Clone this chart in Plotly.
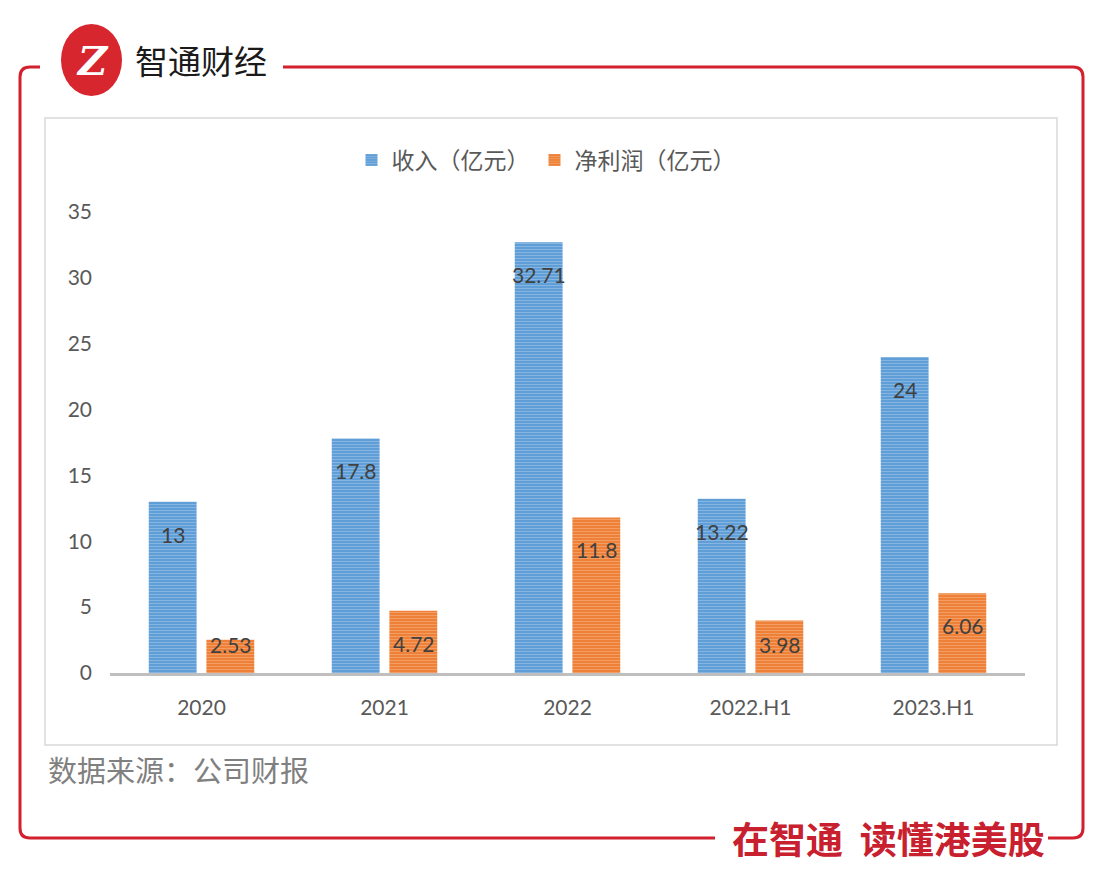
import plotly.graph_objects as go

W, H = 1106, 879

categories = ["2020", "2021", "2022", "2022.H1", "2023.H1"]
revenue = [13, 17.8, 32.71, 13.22, 24]
profit = [2.53, 4.72, 11.8, 3.98, 6.06]
series_names = ["收入（亿元）", "净利润（亿元）"]
y_ticks = [0, 5, 10, 15, 20, 25, 30, 35]

def px(x):
    return x / W

def py(y):
    return 1 - y / H

BLUE = "#5B9BD5"
BLUE_L = "#B4D0F0"
ORANGE = "#ED7D31"
ORANGE_L = "#F8BE98"
RED = "#D2202E"
CJK = "Noto Sans CJK SC"
NUM = "Lato, Noto Sans CJK SC"

fig = go.Figure()
fig.add_trace(go.Bar(
    x=categories, y=revenue, name=series_names[0],
    marker=dict(color=BLUE, line=dict(width=0),
                pattern=dict(shape="-", fgcolor=BLUE_L, bgcolor=BLUE, size=3, solidity=0.4)),
))
fig.add_trace(go.Bar(
    x=categories, y=profit, name=series_names[1],
    marker=dict(color=ORANGE, line=dict(width=0),
                pattern=dict(shape="-", fgcolor=ORANGE_L, bgcolor=ORANGE, size=3, solidity=0.4)),
))

annotations = []
# data labels (inside, near the top of each bar); x given as category index
for series, shift in ((revenue, -29), (profit, 29)):
    for i, v in enumerate(series):
        annotations.append(dict(
            x=i, y=max(v - 2.45, 2.2), xref="x", yref="y", xshift=shift,
            text=f"{v:g}", showarrow=False,
            font=dict(family=NUM, size=21, color="#404040"),
            xanchor="center", yanchor="middle",
        ))

# brand text
annotations.append(dict(x=px(133), y=py(60), xref="paper", yref="paper", text="智通财经",
                        showarrow=False, xanchor="left", yanchor="middle",
                        font=dict(family=CJK, size=33, color="#1a1a1a")))
annotations.append(dict(x=px(92), y=py(60), xref="paper", yref="paper", text="<b><i>Z</i></b>",
                        showarrow=False, xanchor="center", yanchor="middle",
                        font=dict(family="DejaVu Serif", size=40, color="white")))
# source
annotations.append(dict(x=px(46), y=py(769), xref="paper", yref="paper", text="数据来源：公司财报",
                        showarrow=False, xanchor="left", yanchor="middle",
                        font=dict(family=CJK, size=29, color="#808080")))
# slogan
annotations.append(dict(x=px(888), y=py(838), xref="paper", yref="paper",
                        text="<b>在智通  读懂港美股</b>",
                        showarrow=False, xanchor="center", yanchor="middle", bgcolor="white",
                        font=dict(family=CJK, size=37, color="#C8202E")))

shapes = []
# inner chart border
shapes.append(dict(type="rect", xref="paper", yref="paper",
                   x0=px(45), x1=px(1057), y0=py(745), y1=py(118),
                   line=dict(color="#D9D9D9", width=1.5), fillcolor="rgba(0,0,0,0)", layer="below"))

def P(x, y):
    return f"{px(x)},{py(y)}"

r = 10
left_path = (f"M {P(40,67)} L {P(20+r,67)} Q {P(20,67)} {P(20,67+r)} "
             f"L {P(20,838-r)} Q {P(20,838)} {P(20+r,838)} L {P(715,838)}")
right_path = (f"M {P(1048,838)} L {P(1083-r,838)} Q {P(1083,838)} {P(1083,838-r)} "
              f"L {P(1083,67+r)} Q {P(1083,67)} {P(1083-r,67)} L {P(283,67)}")
for p in (left_path, right_path):
    shapes.append(dict(type="path", xref="paper", yref="paper", path=p,
                       line=dict(color=RED, width=3)))
# logo circle
shapes.append(dict(type="circle", xref="paper", yref="paper",
                   x0=px(61), x1=px(122), y0=py(96), y1=py(24),
                   fillcolor="#D7262E", line=dict(width=0), layer="below"))

fig.update_layout(
    width=W, height=H,
    margin=dict(l=0, r=0, t=0, b=0, autoexpand=False),
    paper_bgcolor="white", plot_bgcolor="white",
    barmode="group", bargap=0.37, bargroupgap=0.17,
    showlegend=True,
    legend=dict(orientation="h", x=px(546), xanchor="center", y=py(160), yanchor="middle",
                font=dict(family=CJK, size=23, color="#595959"), itemwidth=30,
                bgcolor="rgba(0,0,0,0)", traceorder="normal"),
    xaxis=dict(type="category", domain=[px(110), px(1025)], range=[-0.5, len(categories) - 0.5],
               showline=True, linecolor="#BFBFBF", linewidth=3, showgrid=False, ticks="",
               tickfont=dict(family=NUM, size=21, color="#595959"),
               ticklabelstandoff=14, fixedrange=True),
    yaxis=dict(domain=[py(673), py(212)], range=[0, 35], tickvals=y_ticks,
               showgrid=False, zeroline=False, showline=False, ticks="",
               tickfont=dict(family=NUM, size=21, color="#595959"),
               ticklabelstandoff=17, fixedrange=True),
    annotations=annotations,
    shapes=shapes,
)

fig.write_html("out.html")
